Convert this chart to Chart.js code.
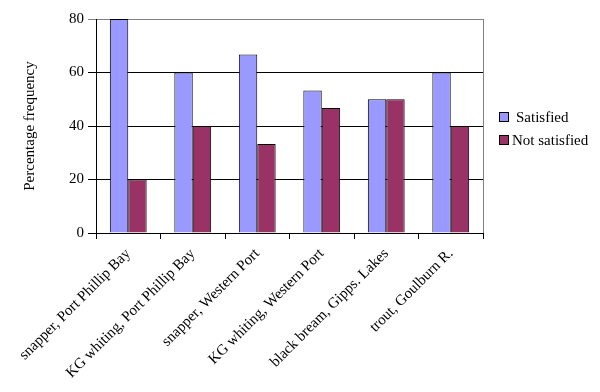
<!DOCTYPE html>
<html>
<head>
<meta charset="utf-8">
<script src="https://cdn.jsdelivr.net/npm/chart.js@4"></script>
<style>
    body { margin: 0; background: #fff; }
</style>
</head>
<body>
<canvas id="chart" width="600" height="392"></canvas>
<script>
const categories = [
    'snapper, Port Phillip Bay',
    'KG whiting, Port Phillip Bay',
    'snapper, Western Port',
    'KG whiting, Western Port',
    'black bream, Gipps. Lakes',
    'trout, Goulburn R.'
];
const satisfied = [80, 60, 66.7, 53.3, 50, 60];
const notSatisfied = [20, 40, 33.3, 46.7, 50, 40];
const yTicks = [0, 20, 40, 60, 80];

const serif = '"Liberation Serif", serif';

// рамка справа и легенда, как в Excel
const excelBits = {
    id: 'excelBits',
    afterDraw(chart) {
        const a = chart.chartArea, ctx = chart.ctx;
        ctx.save();
        ctx.strokeStyle = '#808080';
        ctx.lineWidth = 1;
        ctx.beginPath();
        ctx.moveTo(a.right + 0.5, a.top);
        ctx.lineTo(a.right + 0.5, a.bottom);
        ctx.stroke();

        ctx.font = '15px ' + serif;
        ctx.textBaseline = 'middle';
        ctx.fillStyle = '#000';
        chart.data.datasets.forEach((ds, i) => {
            const y = 117 + i * 23;
            ctx.fillStyle = ds.backgroundColor;
            ctx.fillRect(499.5, y - 4.5, 9, 9);
            ctx.strokeStyle = '#000';
            ctx.strokeRect(499.5, y - 4.5, 9, 9);
            ctx.fillStyle = '#000';
            ctx.fillText(ds.label, i === 0 ? 516 : 512, y + 1);
        });
        ctx.restore();
    }
};

new Chart(document.getElementById('chart'), {
    type: 'bar',
    data: {
        labels: categories,
        datasets: [{
            label: 'Satisfied',
            data: satisfied,
            backgroundColor: '#9999ff',
            borderColor: '#000',
            borderWidth: 1
        }, {
            label: 'Not satisfied',
            data: notSatisfied,
            backgroundColor: '#993366',
            borderColor: '#000',
            borderWidth: 1
        }]
    },
    options: {
        responsive: false,
        animation: false,
        layout: { padding: { top: 19, right: 117, left: 0, bottom: 0 } },
        plugins: { legend: { display: false }, tooltip: { enabled: false } },
        datasets: { bar: { categoryPercentage: 0.571, barPercentage: 1 } },
        scales: {
            x: {
                grid: { drawOnChartArea: false, tickLength: 6, color: '#000' },
                border: { color: '#000' },
                ticks: {
                    color: '#000',
                    font: { family: serif, size: 15 },
                    minRotation: 45,
                    maxRotation: 45,
                    padding: 6
                },
                afterFit(scale) { scale.height = 159; }
            },
            y: {
                min: 0,
                max: 80,
                afterBuildTicks(scale) { scale.ticks = yTicks.map(v => ({ value: v })); },
                grid: {
                    color: ctx => ctx.tick && ctx.tick.value === 80 ? '#808080' : '#000',
                    tickLength: 8
                },
                border: { color: '#000' },
                ticks: { color: '#000', font: { family: serif, size: 15 }, padding: 4 },
                title: {
                    display: true,
                    text: 'Percentage frequency',
                    color: '#000',
                    font: { family: serif, size: 15 },
                    padding: { top: 21, bottom: 0 }
                },
                afterFit(scale) { scale.width = 96; }
            }
        }
    },
    plugins: [excelBits]
});
</script>
</body>
</html>
